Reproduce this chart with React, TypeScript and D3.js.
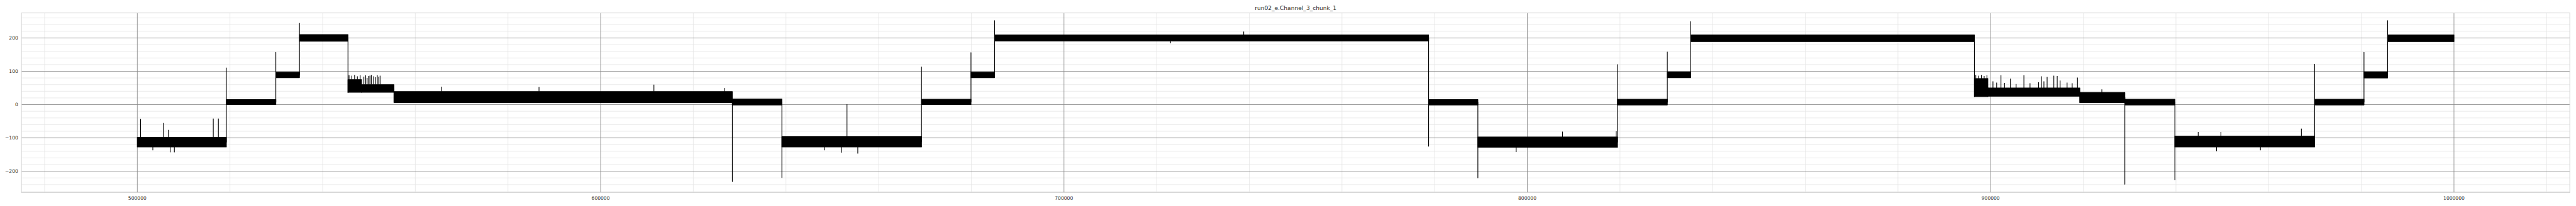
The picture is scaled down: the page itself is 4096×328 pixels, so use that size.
import { useEffect, useRef } from "react"
import * as d3 from "d3"

// reference is 5400x432, drawn through a viewBox into the 4096x328 window
const REF_W = 5400
const REF_H = 432
const OUT_W = 4096
const OUT_H = 328

const title = "run02_e.Channel_3_chunk_1"

// step boundaries of the trace (sample index)
const breaks = [
  500000, 519220, 529900, 535000, 545470, 548400, 555400, 628420, 639120, 669250, 679930, 685030, 778700,
  789330, 819470, 830220, 835270, 896500, 899400, 919250, 928970, 939760, 969920, 980580, 985680, 1000000,
]

// noise band of each level (bottom / top)
const bandLow = [-127, 0, 81, 190, 37, 37, 6, -1, -127, 0, 81, 191, -1, -128, -1, 81, 189, 24, 25, 6, -1, -127, -1, 80, 189]
const bandHigh = [-98, 15, 97, 210, 75, 60, 39, 17, -96, 16, 97, 209, 15, -97, 16, 98, 209, 78, 50, 36, 16, -95, 16, 98, 209]

// value reached at each interior step (overshoot spikes)
const stepPeaks = [110, 157, 244, 36, 50, 6, -231, -219, 113, 156, 252, -125, -220, 120, 158, 249, 24, 40, 6, -239, -226, 121, 157, 252]

// isolated spikes out of the noise band
const spikeX = [
  500700, 503350, 505600, 506700, 507100, 508000, 516400, 517500,
  545700, 546300, 546900, 547500, 548100, 548900, 549300, 549600, 549900, 550200, 550500, 551000, 551400, 551800, 552100, 552400,
  565700, 586700, 611500, 626800,
  648300, 652000, 653170, 655500,
  723000, 738800,
  797600, 807600, 819200,
  896800, 897400, 898000, 898600, 899200, 900500, 901300, 902230, 903000, 904270, 905500, 907180, 908500, 910350, 910970,
  911500, 912190, 913640, 914370, 915000, 916500, 917600, 918740,
  924000,
  944800, 948770, 949700, 958230, 967070,
]
const spikeY = [
  -43, -137, -55, -76, -143, -143, -42, -42,
  88, 87, 89, 85, 88, 84, 88, 80, 86, 87, 89, 85, 82, 88, 84, 87,
  54, 53, 60, 50,
  -137, -144, 1, -147,
  184, 219,
  -142, -81, -80,
  89, 87, 89, 86, 88, 70, 66, 88, 65, 78, 62, 88, 64, 67, 85,
  70, 83, 87, 86, 72, 66, 64, 81,
  46,
  -82, -140, -82, -137, -72,
]

const xTicks = [500000, 600000, 700000, 800000, 900000, 1000000]
const yTicks = [-200, -100, 0, 100, 200]

const App = () => {
  const svgRef = useRef<SVGSVGElement | null>(null)

  useEffect(() => {
    document.body.style.margin = "0"
    if (!svgRef.current) return

    const svg = d3.select(svgRef.current)
    svg.selectAll("*").remove()

    const margin = { top: 27, right: 13, bottom: 28, left: 45 }
    const x = d3.scaleLinear().domain([475000, 1025000]).range([margin.left, REF_W - margin.right])
    const y = d3.scaleLinear().domain([-264, 275]).range([REF_H - margin.bottom, margin.top])

    const font = "DejaVu Sans, sans-serif"
    const textColor = "#262626"

    svg.append("rect").attr("width", REF_W).attr("height", REF_H).attr("fill", "#fff")

    const grid = svg.append("g")

    // minor grid
    const minorX = d3.range(480000, 1025000, 20000).filter((d) => d % 100000 !== 0)
    const minorY = d3.range(-260, 275, 20).filter((d) => d % 100 !== 0)
    grid
      .selectAll(".mx")
      .data(minorX)
      .join("line")
      .attr("x1", (d) => x(d))
      .attr("x2", (d) => x(d))
      .attr("y1", y.range()[0])
      .attr("y2", y.range()[1])
      .attr("stroke", "#e3e3e3")
      .attr("stroke-width", 1)
    grid
      .selectAll(".my")
      .data(minorY)
      .join("line")
      .attr("x1", x.range()[0])
      .attr("x2", x.range()[1])
      .attr("y1", (d) => y(d))
      .attr("y2", (d) => y(d))
      .attr("stroke", "#e3e3e3")
      .attr("stroke-width", 1)

    // major grid
    grid
      .selectAll(".gx")
      .data(xTicks)
      .join("line")
      .attr("x1", (d) => x(d))
      .attr("x2", (d) => x(d))
      .attr("y1", y.range()[0])
      .attr("y2", y.range()[1])
      .attr("stroke", "#858585")
      .attr("stroke-width", 1.1)
    grid
      .selectAll(".gy")
      .data(yTicks)
      .join("line")
      .attr("x1", x.range()[0])
      .attr("x2", x.range()[1])
      .attr("y1", (d) => y(d))
      .attr("y2", (d) => y(d))
      .attr("stroke", "#858585")
      .attr("stroke-width", 1.1)

    // frame
    svg
      .append("rect")
      .attr("x", x.range()[0])
      .attr("y", y.range()[1])
      .attr("width", x.range()[1] - x.range()[0])
      .attr("height", y.range()[0] - y.range()[1])
      .attr("fill", "none")
      .attr("stroke", "#d0d0d0")
      .attr("stroke-width", 1.25)

    // tick labels
    const fmt = d3.format("d")
    svg
      .selectAll(".xl")
      .data(xTicks)
      .join("text")
      .attr("x", (d) => x(d))
      .attr("y", 419)
      .attr("text-anchor", "middle")
      .attr("font-family", font)
      .attr("font-size", 10)
      .attr("fill", textColor)
      .text((d) => fmt(d))
    svg
      .selectAll(".yl")
      .data(yTicks)
      .join("text")
      .attr("x", 38)
      .attr("y", (d) => y(d))
      .attr("dy", "0.36em")
      .attr("text-anchor", "end")
      .attr("font-family", font)
      .attr("font-size", 10)
      .attr("fill", textColor)
      .text((d) => fmt(d))

    svg
      .append("text")
      .attr("x", (x.range()[0] + x.range()[1]) / 2)
      .attr("y", 21)
      .attr("text-anchor", "middle")
      .attr("font-family", font)
      .attr("font-size", 12)
      .attr("fill", textColor)
      .text(title)

    // trace
    const segs = bandLow.map((lo, i) => ({ x0: breaks[i], x1: breaks[i + 1], lo, hi: bandHigh[i] }))
    const trace = svg.append("g")

    trace
      .selectAll(".band")
      .data(segs)
      .join("rect")
      .attr("x", (d) => x(d.x0))
      .attr("width", (d) => x(d.x1) - x(d.x0))
      .attr("y", (d) => y(d.hi))
      .attr("height", (d) => y(d.lo) - y(d.hi))
      .attr("fill", "#000")
      .attr("stroke", "#000")
      .attr("stroke-width", 1.5)
      .attr("stroke-linejoin", "round")

    // step transitions with their overshoot
    const pts: [number, number][] = []
    segs.forEach((s, i) => {
      const mid = (s.lo + s.hi) / 2
      pts.push([s.x0, mid], [s.x1, mid])
      if (i < stepPeaks.length) pts.push([s.x1, stepPeaks[i]])
    })
    const line = d3
      .line<[number, number]>()
      .x((d) => x(d[0]))
      .y((d) => y(d[1]))
    trace
      .append("path")
      .attr("d", line(pts))
      .attr("fill", "none")
      .attr("stroke", "#000")
      .attr("stroke-width", 1.5)
      .attr("stroke-linejoin", "round")

    // spikes out of the band
    const spikes = spikeX.map((sx, i) => {
      const k = Math.min(d3.bisectRight(breaks, sx) - 1, segs.length - 1)
      const s = segs[k]
      const from = spikeY[i] > s.hi ? s.hi : s.lo
      return { sx, from, to: spikeY[i] }
    })
    trace
      .selectAll(".spike")
      .data(spikes)
      .join("line")
      .attr("x1", (d) => x(d.sx))
      .attr("x2", (d) => x(d.sx))
      .attr("y1", (d) => y(d.from))
      .attr("y2", (d) => y(d.to))
      .attr("stroke", "#000")
      .attr("stroke-width", 1.5)
  }, [])

  return (
    <svg
      ref={svgRef}
      width={OUT_W}
      height={OUT_H}
      viewBox={`0 0 ${REF_W} ${REF_H}`}
      style={{ display: "block" }}
    />
  )
}

export default App
